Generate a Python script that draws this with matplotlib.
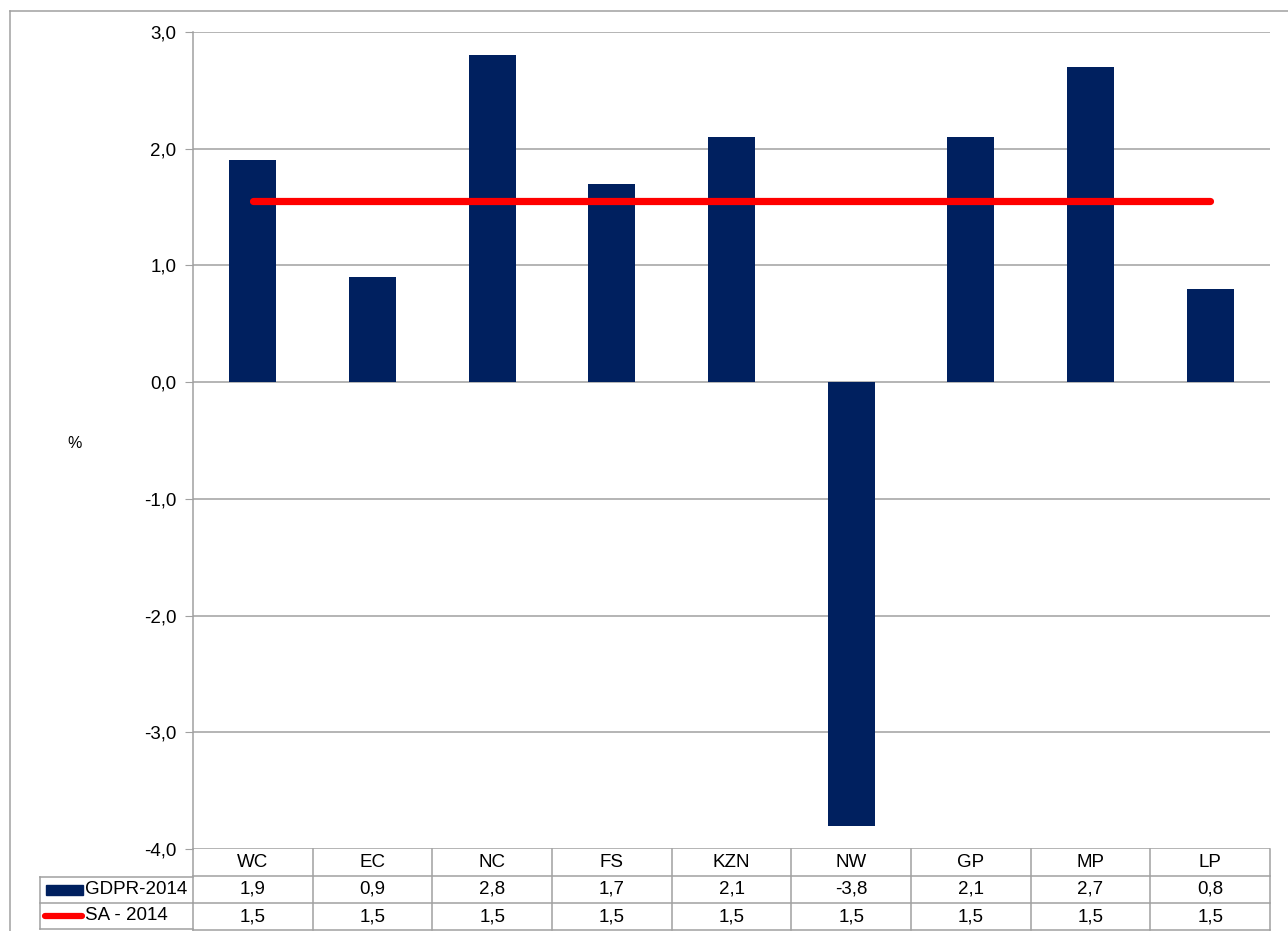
import math
import matplotlib
matplotlib.use("Agg")
import matplotlib.pyplot as plt
from matplotlib.patches import Rectangle
from matplotlib.lines import Line2D
from matplotlib.ticker import FuncFormatter, MultipleLocator

plt.rcParams['font.family'] = ['Liberation Sans', 'DejaVu Sans']

# data
provinces = ["WC", "EC", "NC", "FS", "KZN", "NW", "GP", "MP", "LP"]
gdpr_2014 = [1.9, 0.9, 2.8, 1.7, 2.1, -3.8, 2.1, 2.7, 0.8]
sa_2014 = [1.55, 1.55, 1.55, 1.55, 1.55, 1.55, 1.55, 1.55, 1.55]
series_names = ["GDPR-2014", "SA - 2014"]

bar_color = "#00205F"
line_color = "#FF0000"
grid_color = "#A0A0A0"
fs = 13.5


def comma(v):
    # eine nachkommastelle, abgeschnitten wie in der tabelle des originals
    sign = "-" if v < 0 else ""
    t = math.floor(abs(v) * 10 + 1e-9) / 10
    return sign + f"{t:.1f}".replace(".", ",")


fig = plt.figure(figsize=(12.88, 9.31), dpi=100)
W, H = 1288, 931

left, right, top, bottom = 193, 1270, 32, 849
ax = fig.add_axes([left / W, 1 - bottom / H, (right - left) / W, (bottom - top) / H])

x = list(range(len(provinces)))
ax.bar(x, gdpr_2014, width=0.39, color=bar_color, zorder=3)
ax.plot(x, sa_2014, color=line_color, lw=5.2, solid_capstyle="round", zorder=4)

ax.set_xlim(-0.5, len(provinces) - 0.5)
ax.set_ylim(-4, 3)
ax.yaxis.set_major_locator(MultipleLocator(1))
ax.yaxis.set_major_formatter(FuncFormatter(lambda v, p: f"{v:.1f}".replace(".", ",")))
ax.grid(axis="y", color=grid_color, lw=1.1, zorder=0)
ax.set_xticks([])
for s in ["top", "right", "bottom"]:
    ax.spines[s].set_visible(False)
ax.spines["left"].set_color(grid_color)
ax.spines["left"].set_linewidth(1.1)
ax.tick_params(axis="y", length=6, color=grid_color, labelsize=fs, pad=6)

fig.text(75 / W, 1 - 443 / H, "%", fontsize=11.5, ha="center", va="center")

# tabelle unter der achse
row_h = 27 / (bottom - top)
trans = ax.get_xaxis_transform()
tcol = dict(color=grid_color, lw=1.1, transform=trans, clip_on=False)
n = len(provinces)
for k in range(1, 4):
    y = -k * row_h
    ax.add_line(Line2D([-0.5, n - 0.5], [y, y], **tcol))
for i in range(n + 1):
    ax.add_line(Line2D([i - 0.5, i - 0.5], [0, -3 * row_h], **tcol))

for i, p in enumerate(provinces):
    ax.text(i, -0.5 * row_h, p, transform=trans, ha="center", va="center", fontsize=fs)
    ax.text(i, -1.5 * row_h, comma(gdpr_2014[i]), transform=trans, ha="center",
            va="center", fontsize=fs)
    ax.text(i, -2.5 * row_h, comma(sa_2014[i]), transform=trans, ha="center",
            va="center", fontsize=fs)

# legendenspalte der tabelle
lx0, lx1 = 40 / W, left / W
y_rows = [1 - 877 / H, 1 - 903 / H, 1 - 929 / H]
for y in y_rows:
    fig.add_artist(Line2D([lx0, lx1], [y, y], color=grid_color, lw=1.1))
fig.add_artist(Line2D([lx0, lx0], [y_rows[0], y_rows[2]], color=grid_color, lw=1.1))

yc1 = (y_rows[0] + y_rows[1]) / 2
yc2 = (y_rows[1] + y_rows[2]) / 2
fig.add_artist(Rectangle((46 / W, yc1 - 5 / H), 37 / W, 10 / H, color=bar_color))
fig.add_artist(Line2D([45 / W, 82 / W], [yc2, yc2], color=line_color, lw=4.5,
                      solid_capstyle="round"))
fig.text(85 / W, yc1, series_names[0], fontsize=fs, va="center")
fig.text(85 / W, yc2, series_names[1], fontsize=fs, va="center")

# aeusserer rahmen
fig.add_artist(Line2D([10 / W, 1], [1 - 11 / H, 1 - 11 / H], color=grid_color, lw=1.1))
fig.add_artist(Line2D([10 / W, 10 / W], [0, 1 - 11 / H], color=grid_color, lw=1.1))

fig.savefig("out.png", dpi=100)
